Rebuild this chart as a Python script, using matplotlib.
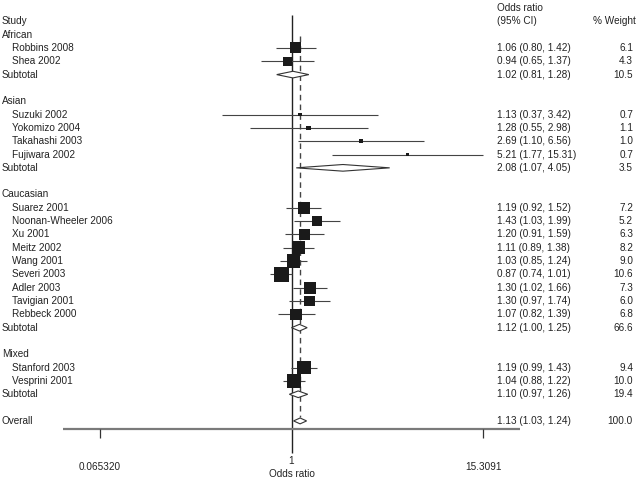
import numpy as np
import matplotlib
matplotlib.use("Agg")
import matplotlib.pyplot as plt
from matplotlib.transforms import blended_transform_factory

# ---- data ----
groups = ["African", "Asian", "Caucasian", "Mixed"]

study = ["Robbins 2008", "Shea 2002",
         "Suzuki 2002", "Yokomizo 2004", "Takahashi 2003", "Fujiwara 2002",
         "Suarez 2001", "Noonan-Wheeler 2006", "Xu 2001", "Meitz 2002",
         "Wang 2001", "Severi 2003", "Adler 2003", "Tavigian 2001",
         "Rebbeck 2000",
         "Stanford 2003", "Vesprini 2001"]
study_group = [0, 0, 1, 1, 1, 1, 2, 2, 2, 2, 2, 2, 2, 2, 2, 3, 3]
study_or = [1.06, 0.94, 1.13, 1.28, 2.69, 5.21, 1.19, 1.43, 1.20, 1.11,
            1.03, 0.87, 1.30, 1.30, 1.07, 1.19, 1.04]
study_lo = [0.80, 0.65, 0.37, 0.55, 1.10, 1.77, 0.92, 1.03, 0.91, 0.89,
            0.85, 0.74, 1.02, 0.97, 0.82, 0.99, 0.88]
study_hi = [1.42, 1.37, 3.42, 2.98, 6.56, 15.31, 1.52, 1.99, 1.59, 1.38,
            1.24, 1.01, 1.66, 1.74, 1.39, 1.43, 1.22]
study_wt = [6.1, 4.3, 0.7, 1.1, 1.0, 0.7, 7.2, 5.2, 6.3, 8.2, 9.0, 10.6,
            7.3, 6.0, 6.8, 9.4, 10.0]

sub_or = [1.02, 2.08, 1.12, 1.10]
sub_lo = [0.81, 1.07, 1.00, 0.97]
sub_hi = [1.28, 4.05, 1.25, 1.26]
sub_wt = [10.5, 3.5, 66.6, 19.4]

overall_or, overall_lo, overall_hi, overall_wt = 1.13, 1.03, 1.24, 100.0

tick_vals = [0.065320, 1, 15.3091]
tick_labels = ["0.065320", "1", "15.3091"]

# ---- figure set-up ----
W, H = 638, 478
plt.rcParams["font.family"] = ["Liberation Sans", "DejaVu Sans"]
FS = 7.2
TXT = "#222222"

fig = plt.figure(figsize=(W / 100, H / 100), dpi=100)
ax = fig.add_axes([0, 0, 1, 1])
ax.set_xscale("log")
px_per_ln = 70.2
x_one = 291.5
ax.set_xlim(np.exp(-x_one / px_per_ln), np.exp((W - x_one) / px_per_ln))
row_h = 13.32
row0 = 8.0
ax.set_ylim((H - row0) / row_h, -row0 / row_h)
ax.axis("off")

tr = blended_transform_factory(ax.transAxes, ax.transData)


def col(px):
    return px / W


def or_text(o, l, h):
    return f"{o:.2f} ({l:.2f}, {h:.2f})"


# ---- layout rows ----
ax.text(col(497), 0, "Odds ratio", transform=tr, fontsize=FS, color=TXT, va="center")
ax.text(col(2), 1, "Study", transform=tr, fontsize=FS, color=TXT, va="center")
ax.text(col(497), 1, "(95% CI)", transform=tr, fontsize=FS, color=TXT, va="center")
ax.text(col(636), 1, "% Weight", transform=tr, fontsize=FS, color=TXT,
        va="center", ha="right")

study_rows = []
sub_rows = []
r = 2
for g, name in enumerate(groups):
    ax.text(col(2), r, name, transform=tr, fontsize=FS, color=TXT, va="center")
    r += 1
    for i, gi in enumerate(study_group):
        if gi != g:
            continue
        study_rows.append(r)
        ax.text(col(12), r, study[i], transform=tr, fontsize=FS, color=TXT, va="center")
        ax.text(col(497), r, or_text(study_or[i], study_lo[i], study_hi[i]),
                transform=tr, fontsize=FS, color=TXT, va="center")
        ax.text(col(633), r, f"{study_wt[i]:.1f}", transform=tr, fontsize=FS,
                color=TXT, va="center", ha="right")
        r += 1
    sub_rows.append(r)
    ax.text(col(2), r, "Subtotal", transform=tr, fontsize=FS, color=TXT, va="center")
    ax.text(col(497), r, or_text(sub_or[g], sub_lo[g], sub_hi[g]),
            transform=tr, fontsize=FS, color=TXT, va="center")
    ax.text(col(633), r, f"{sub_wt[g]:.1f}", transform=tr, fontsize=FS,
            color=TXT, va="center", ha="right")
    r += 2
overall_row = r
ax.text(col(2), r, "Overall", transform=tr, fontsize=FS, color=TXT, va="center")
ax.text(col(497), r, or_text(overall_or, overall_lo, overall_hi),
        transform=tr, fontsize=FS, color=TXT, va="center")
ax.text(col(633), r, f"{overall_wt:.1f}", transform=tr, fontsize=FS,
        color=TXT, va="center", ha="right")

# ---- reference lines ----
ax.vlines(1, 0.53, 33.4, color="#222222", lw=1.0, zorder=2)
ax.vlines(overall_or, 2.1, overall_row - 0.3, color="#444444", lw=1.0,
          linestyles=(0, (4, 3)), zorder=2)

# ---- study CIs and squares ----
study_rows = np.array(study_rows)
ax.hlines(study_rows, study_lo, study_hi, color="#444444", lw=0.8, zorder=3)
side_px = 14.5 * np.sqrt(np.array(study_wt) / 10.6)
ax.scatter(study_or, study_rows, marker="s", s=(side_px * 0.72) ** 2,
           color="#1a1a1a", linewidths=0, zorder=4)


# ---- diamonds ----
def diamond(o, l, h, row, half=0.25):
    ax.fill([l, o, h, o], [row, row - half, row, row + half],
            facecolor="white", edgecolor="#333333", lw=0.8, zorder=5)


for g in range(len(groups)):
    diamond(sub_or[g], sub_lo[g], sub_hi[g], sub_rows[g])
diamond(overall_or, overall_lo, overall_hi, overall_row, half=0.22)

# ---- x axis ----
axis_row = (429 - row0) / row_h
ax.hlines(axis_row, np.exp(-3.255), np.exp(3.255), color="#7a7a7a", lw=1.6, zorder=2)
ax.vlines([tick_vals[0], tick_vals[2]], axis_row, (438 - row0) / row_h,
          color="#333333", lw=0.9)
label_rows = [(467 - row0) / row_h, (461 - row0) / row_h, (467 - row0) / row_h]
for v, lab, lr in zip(tick_vals, tick_labels, label_rows):
    ax.text(v, lr, lab, fontsize=FS, color=TXT, ha="center", va="center")
ax.text(1, (474 - row0) / row_h, "Odds ratio", fontsize=FS, color=TXT,
        ha="center", va="center")

fig.savefig("out.png", dpi=100)
